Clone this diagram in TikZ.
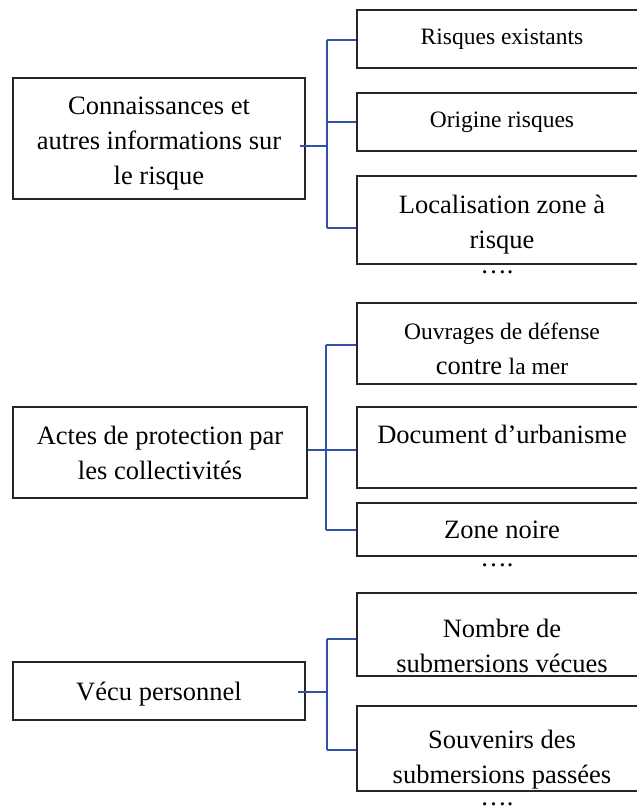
\documentclass[tikz,border=0pt]{standalone}
\usepackage{fontspec}
\setmainfont{Liberation Serif}
\definecolor{linkblue}{RGB}{47,84,165}
\newcommand{\smalltxt}[1]{{\fontsize{23.5}{35}\selectfont #1}}

\begin{document}
\begin{tikzpicture}[x=1pt, y=-1pt,
  box/.style={draw=black!85, line width=1.1pt, align=center, inner sep=0pt,
    font=\fontsize{26.5}{35}\selectfont},
  leftbox/.style={box, minimum width=292pt},
  rightbox/.style={box, minimum width=290pt},
  small/.style={font=\fontsize{23.5}{35}\selectfont},
  more/.style={inner sep=0pt, font=\fontsize{26.5}{35}\selectfont},
  link/.style={draw=linkblue, line width=1.2pt}]
\useasboundingbox (0,0) rectangle (637,811);
\clip (0,0) rectangle (637,811);

% left boxes
\node[leftbox, minimum height=121pt] (conn) at (159,138.5) {\rule{0pt}{28pt}Connaissances et\\autres informations sur\\le risque};
\node[leftbox, minimum width=294pt, minimum height=91pt] (actes) at (160,452.5) {Actes de protection par\\les collectivit\'es};
\node[leftbox, minimum height=58pt] (vecu) at (159,691) {\rule{0pt}{24pt}V\'ecu personnel};

% right boxes
\node[rightbox, small, minimum height=58pt] (exist) at (502,39) {Risques existants};
\node[rightbox, small, minimum height=58pt] (origine) at (502,122) {Origine risques};
\node[rightbox, minimum height=88pt] (zone) at (502,220) {\rule{0pt}{28pt}Localisation zone \`a\\risque};
\node[more] (more1) at (497,272) {\ldots.};

\node[rightbox, minimum height=81pt] (ouvrages) at (502,343.5) {\rule{0pt}{28pt}\smalltxt{Ouvrages de d\'efense}\\contre \smalltxt{la mer}};
\node[rightbox, minimum height=81pt] (urba) at (502,447.5) {\rule{0pt}{26pt}Document d'urbanisme\\\mbox{}};
\node[rightbox, minimum height=53pt] (noire) at (502,529.5) {Zone noire};
\node[more] (more2) at (497,565) {\ldots.};

\node[rightbox, minimum height=83pt] (nombre) at (502,634.5) {\rule{0pt}{41pt}Nombre de\\submersions v\'ecues};
\node[rightbox, minimum height=85pt] (souv) at (502,748.5) {\rule{0pt}{40pt}Souvenirs des\\submersions pass\'ees};
\node[more] (more3) at (497,804) {\ldots.};

% first tree
\coordinate (k1) at (327,146);
\coordinate (k1a) at (327,40);
\coordinate (k1c) at (327,228);
\draw[link] (300,146) -- (k1);
\draw[link] (k1a) -- (k1c);
\draw[link] (k1a) -- (exist.west |- k1a);
\draw[link] (k1 |- origine.west) -- (origine.west);
\draw[link] (k1c) -- (zone.west |- k1c);

% second tree
\coordinate (k2) at (326,450);
\coordinate (k2a) at (326,345);
\coordinate (k2c) at (326,530);
\draw[link] (actes.east |- k2) -- (k2);
\draw[link] (k2a) -- (k2c);
\draw[link] (k2a) -- (ouvrages.west |- k2a);
\draw[link] (k2) -- (urba.west |- k2);
\draw[link] (k2c) -- (noire.west |- k2c);

% third tree
\coordinate (k3) at (327,692);
\coordinate (k3a) at (327,639);
\coordinate (k3b) at (327,750);
\draw[link] (298,692) -- (k3);
\draw[link] (k3a) -- (k3b);
\draw[link] (k3a) -- (nombre.west |- k3a);
\draw[link] (k3b) -- (souv.west |- k3b);
\end{tikzpicture}
\end{document}
